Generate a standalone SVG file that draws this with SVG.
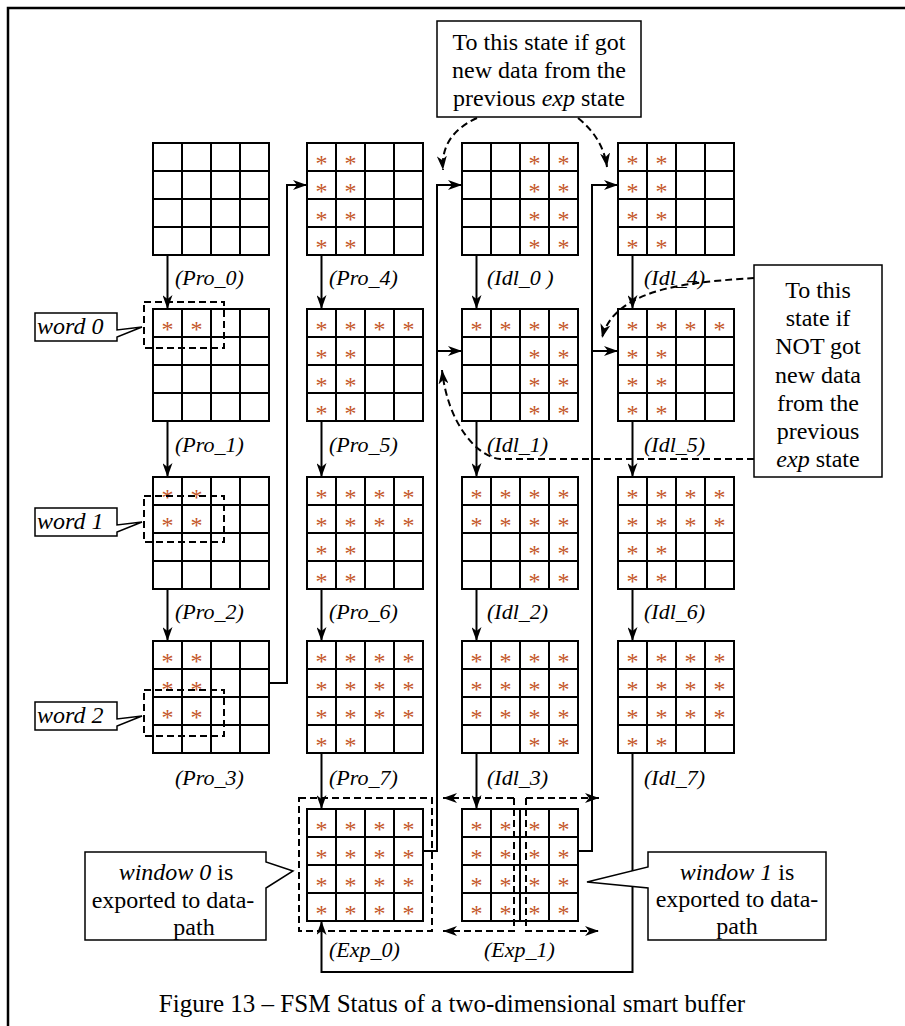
<svg xmlns="http://www.w3.org/2000/svg" width="905" height="1026" viewBox="0 0 905 1026">
<style>
.gl{fill:#fff;stroke:#000;stroke-width:2}
.gi{fill:none;stroke:#000;stroke-width:2}
.ast{font-family:"Liberation Serif",serif;font-size:24px;fill:#c4562a;text-anchor:middle}
.lbl{font-family:"Liberation Serif",serif;font-size:22px;font-style:italic;fill:#000}
.wl{font-size:24px}
.txt{font-family:"Liberation Serif",serif;font-size:24px;fill:#000;text-anchor:middle}
.it{font-style:italic}
.ln{fill:none;stroke:#000;stroke-width:2}
.dl{fill:none;stroke:#000;stroke-width:2;stroke-dasharray:7 4}
.box{fill:#fff;stroke:#000;stroke-width:1.5}
</style>
<defs>
<g id="grid"><rect class="gl" x="0" y="0" width="116" height="112"/><path class="gi" d="M29,0V112M58,0V112M87,0V112M0,28H116M0,56H116M0,84H116"/></g>
<marker id="ah" viewBox="0 0 14 10" refX="14" refY="5" markerWidth="14" markerHeight="10" markerUnits="userSpaceOnUse" orient="auto-start-reverse"><path d="M0,0 L14,5 L0,10 L4,5 Z" fill="#000"/></marker>
</defs>
<rect x="0" y="0" width="905" height="1026" fill="#fff"/>
<path d="M8,1026 V8 H905" fill="none" stroke="#000" stroke-width="2.5"/>

<g id="pro0"><use href="#grid" x="153" y="143"/></g>
<g id="pro1"><use href="#grid" x="153" y="309"/>
<text class="ast" x="167.5 196.5" y="337">**</text></g>
<g id="pro2"><use href="#grid" x="153" y="477"/>
<text class="ast" x="167.5 196.5" y="505">**</text><text class="ast" x="167.5 196.5" y="533">**</text></g>
<g id="pro3"><use href="#grid" x="153" y="641"/>
<text class="ast" x="167.5 196.5" y="669">**</text><text class="ast" x="167.5 196.5" y="697">**</text><text class="ast" x="167.5 196.5" y="725">**</text></g>

<g id="pro4"><use href="#grid" x="307" y="143"/>
<text class="ast" x="321.5 350.5" y="171">**</text><text class="ast" x="321.5 350.5" y="199">**</text><text class="ast" x="321.5 350.5" y="227">**</text><text class="ast" x="321.5 350.5" y="255">**</text></g>
<g id="pro5"><use href="#grid" x="307" y="309"/>
<text class="ast" x="321.5 350.5 379.5 408.5" y="337">****</text><text class="ast" x="321.5 350.5" y="365">**</text><text class="ast" x="321.5 350.5" y="393">**</text><text class="ast" x="321.5 350.5" y="421">**</text></g>
<g id="pro6"><use href="#grid" x="307" y="477"/>
<text class="ast" x="321.5 350.5 379.5 408.5" y="505">****</text><text class="ast" x="321.5 350.5 379.5 408.5" y="533">****</text><text class="ast" x="321.5 350.5" y="561">**</text><text class="ast" x="321.5 350.5" y="589">**</text></g>
<g id="pro7"><use href="#grid" x="307" y="641"/>
<text class="ast" x="321.5 350.5 379.5 408.5" y="669">****</text><text class="ast" x="321.5 350.5 379.5 408.5" y="697">****</text><text class="ast" x="321.5 350.5 379.5 408.5" y="725">****</text><text class="ast" x="321.5 350.5" y="753">**</text></g>
<g id="exp0"><use href="#grid" x="307" y="809"/>
<text class="ast" x="321.5 350.5 379.5 408.5" y="837">****</text><text class="ast" x="321.5 350.5 379.5 408.5" y="865">****</text><text class="ast" x="321.5 350.5 379.5 408.5" y="893">****</text><text class="ast" x="321.5 350.5 379.5 408.5" y="921">****</text></g>

<g id="idl0"><use href="#grid" x="462" y="143"/>
<text class="ast" x="534.5 563.5" y="171">**</text><text class="ast" x="534.5 563.5" y="199">**</text><text class="ast" x="534.5 563.5" y="227">**</text><text class="ast" x="534.5 563.5" y="255">**</text></g>
<g id="idl1"><use href="#grid" x="462" y="309"/>
<text class="ast" x="476.5 505.5 534.5 563.5" y="337">****</text><text class="ast" x="534.5 563.5" y="365">**</text><text class="ast" x="534.5 563.5" y="393">**</text><text class="ast" x="534.5 563.5" y="421">**</text></g>
<g id="idl2"><use href="#grid" x="462" y="477"/>
<text class="ast" x="476.5 505.5 534.5 563.5" y="505">****</text><text class="ast" x="476.5 505.5 534.5 563.5" y="533">****</text><text class="ast" x="534.5 563.5" y="561">**</text><text class="ast" x="534.5 563.5" y="589">**</text></g>
<g id="idl3"><use href="#grid" x="462" y="641"/>
<text class="ast" x="476.5 505.5 534.5 563.5" y="669">****</text><text class="ast" x="476.5 505.5 534.5 563.5" y="697">****</text><text class="ast" x="476.5 505.5 534.5 563.5" y="725">****</text><text class="ast" x="534.5 563.5" y="753">**</text></g>
<g id="exp1"><use href="#grid" x="462" y="809"/>
<text class="ast" x="476.5 505.5 534.5 563.5" y="837">****</text><text class="ast" x="476.5 505.5 534.5 563.5" y="865">****</text><text class="ast" x="476.5 505.5 534.5 563.5" y="893">****</text><text class="ast" x="476.5 505.5 534.5 563.5" y="921">****</text></g>

<g id="idl4"><use href="#grid" x="618" y="143"/>
<text class="ast" x="632.5 661.5" y="171">**</text><text class="ast" x="632.5 661.5" y="199">**</text><text class="ast" x="632.5 661.5" y="227">**</text><text class="ast" x="632.5 661.5" y="255">**</text></g>
<g id="idl5"><use href="#grid" x="618" y="309"/>
<text class="ast" x="632.5 661.5 690.5 719.5" y="337">****</text><text class="ast" x="632.5 661.5" y="365">**</text><text class="ast" x="632.5 661.5" y="393">**</text><text class="ast" x="632.5 661.5" y="421">**</text></g>
<g id="idl6"><use href="#grid" x="618" y="477"/>
<text class="ast" x="632.5 661.5 690.5 719.5" y="505">****</text><text class="ast" x="632.5 661.5 690.5 719.5" y="533">****</text><text class="ast" x="632.5 661.5" y="561">**</text><text class="ast" x="632.5 661.5" y="589">**</text></g>
<g id="idl7"><use href="#grid" x="618" y="641"/>
<text class="ast" x="632.5 661.5 690.5 719.5" y="669">****</text><text class="ast" x="632.5 661.5 690.5 719.5" y="697">****</text><text class="ast" x="632.5 661.5 690.5 719.5" y="725">****</text><text class="ast" x="632.5 661.5" y="753">**</text></g>

<g id="connectors">
<g class="ln" marker-end="url(#ah)">
<path d="M167.5,255V309"/><path d="M167.5,421V477"/><path d="M167.5,589V641"/>
<path d="M321.5,255V309"/><path d="M321.5,421V477"/><path d="M321.5,589V641"/><path d="M321.5,753V809"/>
<path d="M476.5,255V309"/><path d="M476.5,421V477"/><path d="M476.5,589V641"/><path d="M476.5,753V809"/>
<path d="M632.5,255V309"/><path d="M632.5,421V477"/><path d="M632.5,589V641"/>
<path d="M632.5,753V972H321.5V921"/>
<path d="M269,683H287V185H307"/>
<path d="M423,851H437V185H462"/><path d="M437,351H462"/>
<path d="M578,851H592V185H618"/><path d="M592,351H618"/>
</g>
<g class="dl" marker-end="url(#ah)">
<path d="M477,118Q440,135 443,170"/>
<path d="M578,118Q603,138 607,167"/>
<path d="M754,278C700,282 615,285 602,338"/>
<path d="M754,459H500C478,457 448,425 442,370"/>
<path d="M514,798H443"/><path d="M514,798V931H443"/>
<path d="M526,798H599"/><path d="M526,798V931H599"/>
</g>
<rect class="dl" x="299" y="798" width="133" height="133"/>
</g>

<g id="labels">
<text class="lbl" x="175" y="285">(Pro_0)</text>
<text class="lbl" x="175" y="452">(Pro_1)</text>
<text class="lbl" x="175" y="619">(Pro_2)</text>
<text class="lbl" x="175" y="785">(Pro_3)</text>
<text class="lbl" x="329" y="285">(Pro_4)</text>
<text class="lbl" x="329" y="452">(Pro_5)</text>
<text class="lbl" x="329" y="619">(Pro_6)</text>
<text class="lbl" x="329" y="785">(Pro_7)</text>
<text class="lbl" x="487" y="285">(Idl_0 )</text>
<text class="lbl" x="487" y="452">(Idl_1)</text>
<text class="lbl" x="487" y="619">(Idl_2)</text>
<text class="lbl" x="487" y="785">(Idl_3)</text>
<text class="lbl" x="644" y="285">(Idl_4)</text>
<text class="lbl" x="644" y="452">(Idl_5)</text>
<text class="lbl" x="644" y="619">(Idl_6)</text>
<text class="lbl" x="644" y="785">(Idl_7)</text>
<text class="lbl" x="329" y="957">(Exp_0)</text>
<text class="lbl" x="484" y="957">(Exp_1)</text>
</g>

<g id="word0">
<rect class="dl" x="144" y="302" width="80" height="46"/>
<path class="box" d="M35,313H117V330L142,327L117,337V341H35Z"/>
<text class="lbl wl" x="37" y="334">word 0</text>
</g>
<g id="word1">
<rect class="dl" x="144" y="496" width="80" height="46"/>
<path class="box" d="M35,508H117V525L142,522L117,532V536H35Z"/>
<text class="lbl wl" x="37" y="529">word 1</text>
</g>
<g id="word2">
<rect class="dl" x="144" y="690" width="80" height="46"/>
<path class="box" d="M35,702H117V719L142,716L117,726V730H35Z"/>
<text class="lbl wl" x="37" y="723">word 2</text>
</g>

<g id="note-top">
<rect class="box" x="437" y="21" width="204" height="96"/>
<text class="txt" x="539" y="50">To this state if got</text>
<text class="txt" x="539" y="78">new data from the</text>
<text class="txt" x="539" y="106">previous <tspan class="it">exp</tspan> state</text>
</g>
<g id="note-right">
<rect class="box" x="754" y="265" width="128" height="212"/>
<text class="txt" x="818" y="298">To this</text>
<text class="txt" x="818" y="326">state if</text>
<text class="txt" x="818" y="354">NOT got</text>
<text class="txt" x="818" y="383">new data</text>
<text class="txt" x="818" y="411">from the</text>
<text class="txt" x="818" y="439">previous</text>
<text class="txt" x="818" y="467"><tspan class="it">exp</tspan> state</text>
</g>
<g id="window0">
<path class="box" d="M85,852H266V862L293,871L266,888V940H85Z"/>
<text class="txt" x="176" y="880"><tspan class="it">window 0</tspan> is</text>
<text class="txt" x="173" y="908">exported to data-</text>
<text class="txt" x="194" y="935">path</text>
</g>
<g id="window1">
<path class="box" d="M648,852H826V940H648V888L587,882L648,867Z" fill="none"/>
<text class="txt" x="737" y="880"><tspan class="it">window 1</tspan> is</text>
<text class="txt" x="737" y="907">exported to data-</text>
<text class="txt" x="737" y="934">path</text>
</g>

<text id="caption" x="452" y="1012" style="font-family:'Liberation Serif',serif;font-size:25px;text-anchor:middle">Figure 13 – FSM Status of a two-dimensional smart buffer</text>
</svg>
